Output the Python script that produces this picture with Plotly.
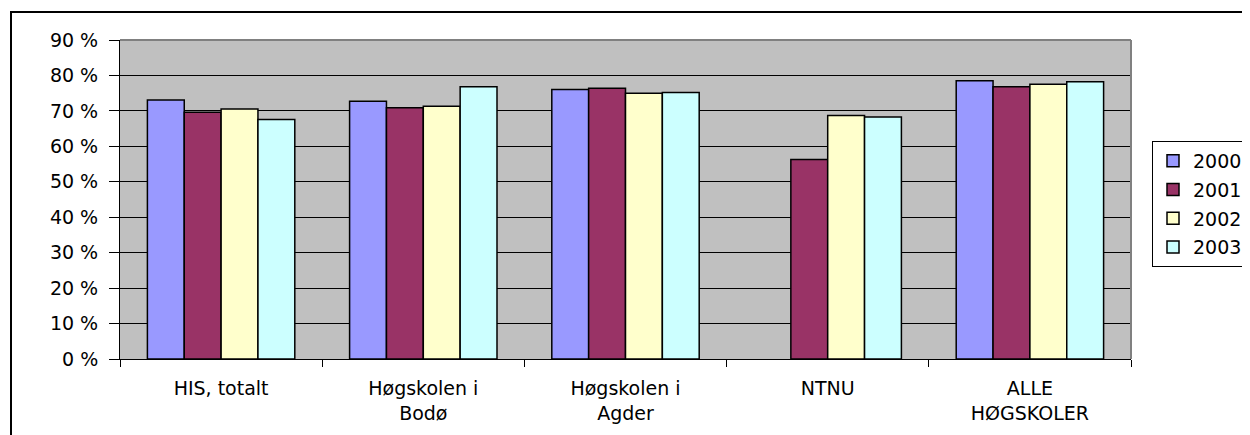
import plotly.graph_objects as go

categories = ["HIS, totalt", "Høgskolen i<br>Bodø", "Høgskolen i<br>Agder", "NTNU", "ALLE<br>HØGSKOLER"]
years = ["2000", "2001", "2002", "2003"]
v2000 = [73.1, 72.7, 76.0, None, 78.5]
v2001 = [69.6, 70.9, 76.4, 56.3, 76.8]
v2002 = [70.5, 71.3, 75.0, 68.7, 77.5]
v2003 = [67.6, 76.8, 75.2, 68.3, 78.2]
colors = ["#9999FF", "#993366", "#FFFFCC", "#CCFFFF"]
y_ticks = [0, 10, 20, 30, 40, 50, 60, 70, 80, 90]

series = [v2000, v2001, v2002, v2003]
FONT = "DejaVu Sans"
FS = 19

fig = go.Figure()
for name, vals, col in zip(years, series, colors):
    fig.add_trace(go.Bar(
        x=categories, y=vals, name=name, legendgroup=name,
        marker=dict(color=col, line=dict(color="black", width=1.5)),
    ))

# page body adds an 8px offset; compensate
OFF = 8
W, H = 1250 - OFF, 435 - OFF
L, T = 120 - OFF, 40 - OFF
R = W - (1131 - OFF)
B = H - (359 - OFF)
pw, ph = W - L - R, H - T - B


def px_to_py(ypage):
    return ((359 - OFF) - (ypage - OFF)) / ph


def px_to_px(xpage):
    return ((xpage - OFF) - L) / pw


fig.update_layout(
    width=W, height=H,
    margin=dict(l=L, r=R, t=T, b=B, autoexpand=False),
    paper_bgcolor="white", plot_bgcolor="#C0C0C0",
    barmode="group", bargap=0.271, bargroupgap=0,
    font=dict(family=FONT, size=FS, color="black"),
    showlegend=True,
    legend=dict(
        x=px_to_px(1152), y=px_to_py(141), xanchor="left", yanchor="top",
        bordercolor="black", borderwidth=1, bgcolor="white",
        font=dict(family=FONT, size=FS, color="black"),
        traceorder="grouped", tracegroupgap=1,
    ),
    xaxis=dict(
        type="category", tickson="boundaries", ticks="outside", ticklen=7,
        tickcolor="black", showline=True, linecolor="black", linewidth=1,
        showgrid=False, tickfont=dict(family=FONT, size=FS),
        ticklabelstandoff=12,
    ),
    yaxis=dict(
        range=[0, 90], tickvals=y_ticks, ticktext=[f"{t} %" for t in y_ticks],
        ticks="outside", ticklen=10, tickcolor="black",
        showline=True, linecolor="black", linewidth=1,
        showgrid=True, gridcolor="black", gridwidth=1, zeroline=False,
        tickfont=dict(family=FONT, size=FS), ticklabelstandoff=7,
    ),
    shapes=[
        dict(type="line", xref="paper", yref="paper", x0=0, x1=1, y0=1, y1=1,
             line=dict(color="#808080", width=2)),
        dict(type="line", xref="paper", yref="paper", x0=1, x1=1, y0=0, y1=1,
             line=dict(color="#808080", width=2)),
        dict(type="rect", xref="paper", yref="paper",
             x0=px_to_px(11), x1=3, y0=-2, y1=px_to_py(12),
             line=dict(color="black", width=2), fillcolor="rgba(0,0,0,0)"),
    ],
)

fig.write_html("out.html")
